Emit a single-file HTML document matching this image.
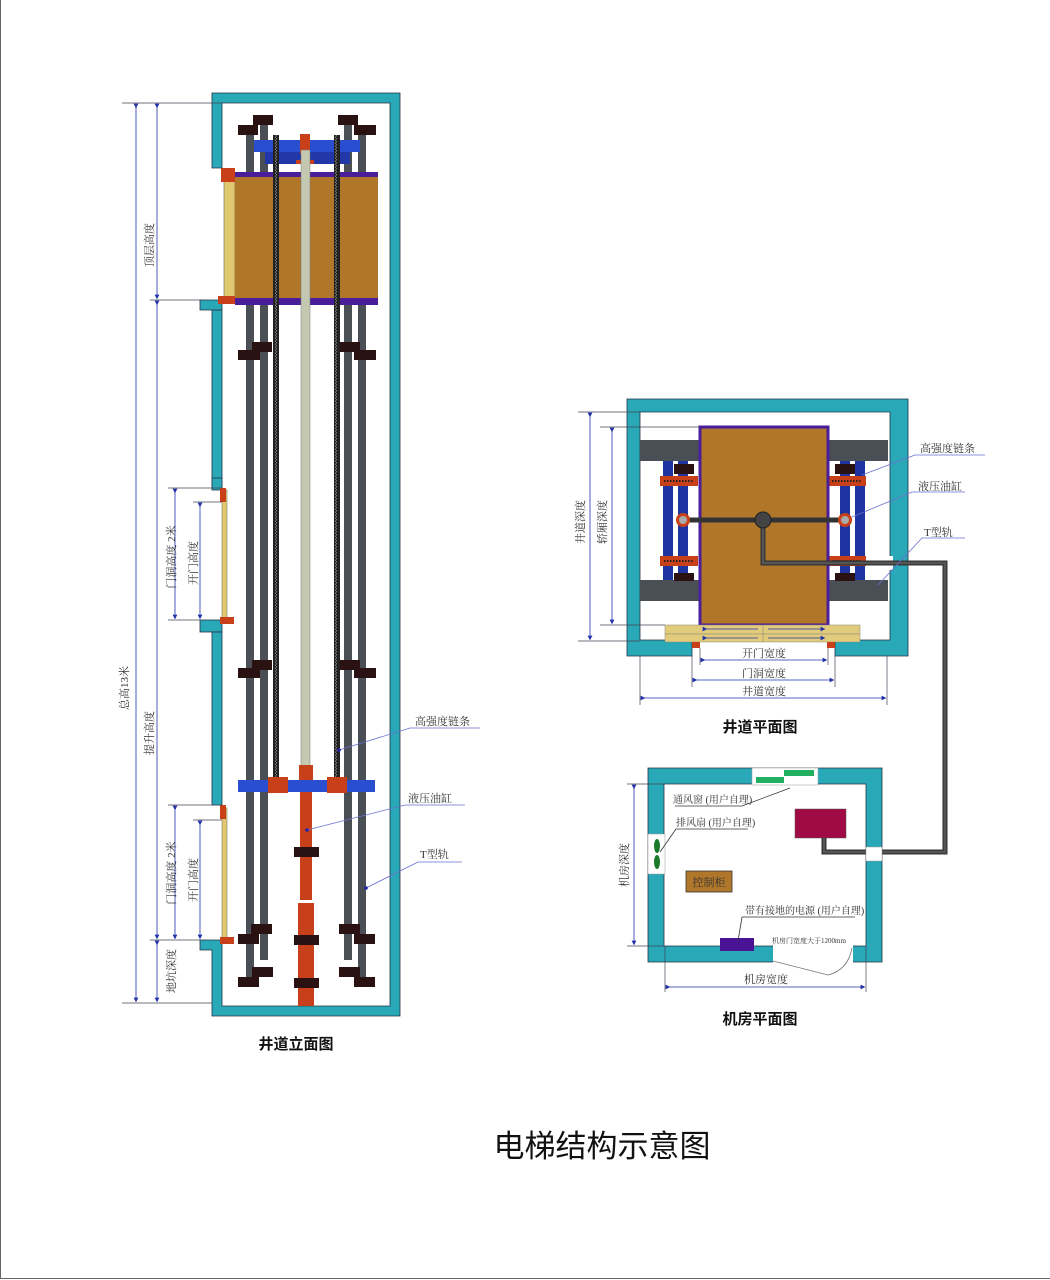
<!DOCTYPE html>
<html><head><meta charset="utf-8"><style>
html,body{margin:0;padding:0;background:#fff;}
svg{display:block;}
text{font-family:"Liberation Serif","Noto Serif CJK SC",serif;fill:#333;}
.t{font-family:"Liberation Sans","Noto Sans CJK SC",sans-serif;fill:#111;}
</style></head><body>
<svg width="1050" height="1280" viewBox="0 0 1050 1280" xmlns="http://www.w3.org/2000/svg">
<defs>
<marker id="a" markerWidth="6" markerHeight="6" refX="3" refY="3" orient="auto"><path d="M0,0L6,3L0,6z" fill="#2233aa"/></marker>
<pattern id="ch" width="6" height="3" patternUnits="userSpaceOnUse"><rect width="6" height="3" fill="#222"/><rect x="0" y="0" width="1" height="1.5" fill="#777"/><rect x="5" y="1.5" width="1" height="1.5" fill="#777"/></pattern>
</defs>
<line x1="0.5" y1="0" x2="0.5" y2="1278.5" stroke="#666"/>
<line x1="0" y1="1278.5" x2="1050" y2="1278.5" stroke="#666"/>

<!-- ===== Elevation ===== -->
<g stroke="#234" stroke-width="0.8">
<path d="M212,93 H400 V1016 H212 V950 H200 V940 H222 V1006 H390 V103 H222 V168 H212 Z" fill="#29a8b8"/>
<path d="M212,310 V488 H222 V310 Z" fill="#29a8b8"/>
<path d="M200,300 H222 V310 H200 Z" fill="#29a8b8"/>
<rect x="200" y="620" width="22" height="12" fill="#29a8b8"/>
<rect x="212" y="632" width="10" height="173" fill="#29a8b8"/>
<rect x="212" y="478" width="10" height="12" fill="#29a8b8"/>
</g>
<rect x="224" y="180" width="11" height="120" fill="#e0c870" stroke="#665" stroke-width="0.6"/>
<rect x="221" y="168" width="14" height="14" fill="#c8401a"/>
<rect x="218" y="296" width="18" height="8" fill="#c8401a"/>
<rect x="222" y="490" width="5" height="128" fill="#e0c870" stroke="#665" stroke-width="0.5"/>
<rect x="220" y="488" width="6" height="14" fill="#c8401a"/>
<rect x="220" y="617" width="14" height="7" fill="#c8401a"/>
<rect x="222" y="808" width="5" height="130" fill="#e0c870" stroke="#665" stroke-width="0.5"/>
<rect x="220" y="805" width="6" height="14" fill="#c8401a"/>
<rect x="220" y="937" width="14" height="7" fill="#c8401a"/>

<g fill="#4a4f55">
<rect x="246" y="125" width="8" height="860"/>
<rect x="260" y="125" width="8" height="835"/>
<rect x="344" y="125" width="8" height="835"/>
<rect x="358" y="125" width="8" height="860"/>
</g>
<rect x="254" y="140" width="106" height="12" fill="#2a4ed0"/>
<rect x="265" y="152" width="85" height="12" fill="#2238a8"/>
<rect x="300" y="134" width="10" height="20" fill="#c8401a"/>
<rect x="296" y="160" width="18" height="4" fill="#c8401a"/>
<g fill="#2a1212">
<rect x="238" y="125" width="20" height="10"/><rect x="253" y="115" width="20" height="10"/>
<rect x="338" y="115" width="20" height="10"/><rect x="354" y="125" width="22" height="10"/>
</g>
<rect x="235" y="172" width="143" height="131" fill="#b0772a"/>
<rect x="235" y="172" width="143" height="5" fill="#4a1e9a"/>
<rect x="235" y="298" width="143" height="7" fill="#4a1e9a"/>
<rect x="273" y="135" width="6" height="645" fill="url(#ch)"/>
<rect x="334" y="135" width="6" height="645" fill="url(#ch)"/>
<rect x="301" y="150" width="9" height="620" fill="#c4c8b0" stroke="#777" stroke-width="0.5"/>
<g fill="#2a1212">
<rect x="238" y="350" width="22" height="10"/><rect x="252" y="342" width="20" height="10"/>
<rect x="340" y="342" width="20" height="10"/><rect x="354" y="350" width="22" height="10"/>
<rect x="238" y="668" width="22" height="10"/><rect x="252" y="660" width="20" height="10"/>
<rect x="340" y="660" width="20" height="10"/><rect x="354" y="668" width="22" height="10"/>
</g>
<rect x="238" y="780" width="137" height="12" fill="#2a4ed0"/>
<rect x="268" y="777" width="20" height="16" fill="#c8401a"/>
<rect x="327" y="777" width="20" height="16" fill="#c8401a"/>
<rect x="299" y="765" width="14" height="15" fill="#c8401a"/>
<rect x="300" y="792" width="12" height="108" fill="#c8401a"/>
<rect x="298" y="903" width="16" height="103" fill="#c8401a"/>
<g fill="#2a1212">
<rect x="294" y="847" width="25" height="10"/>
<rect x="294" y="935" width="25" height="10"/><rect x="294" y="978" width="25" height="10"/>
<rect x="251" y="924" width="21" height="10"/><rect x="238" y="934" width="21" height="10"/>
<rect x="339" y="924" width="21" height="10"/><rect x="354" y="934" width="21" height="10"/>
<rect x="252" y="967" width="21" height="10"/><rect x="238" y="977" width="21" height="10"/>
<rect x="339" y="967" width="21" height="10"/><rect x="354" y="977" width="21" height="10"/>
</g>
<g stroke="#6a70d0" stroke-width="0.8" fill="none">
<path d="M339,750 L410,728 H480"/>
<path d="M307,830 L405,805 H465"/>
<path d="M366,888 L418,862 H462"/>
</g>
<g fill="#22a"><circle cx="339" cy="750" r="1.8"/><circle cx="307" cy="830" r="1.8"/><circle cx="366" cy="888" r="1.8"/></g>
<text x="415" y="725" font-size="11">高强度链条</text>
<text x="408" y="802" font-size="11">液压油缸</text>
<text x="420" y="858" font-size="11">T型轨</text>

<g stroke="#445" stroke-width="0.7">
<line x1="122" y1="103" x2="222" y2="103"/>
<line x1="122" y1="1003" x2="212" y2="1003"/>
<line x1="150" y1="300" x2="205" y2="300"/>
<line x1="150" y1="940" x2="205" y2="940"/>
<line x1="168" y1="488" x2="222" y2="488"/>
<line x1="168" y1="620" x2="205" y2="620"/>
<line x1="193" y1="502" x2="222" y2="502"/>
<line x1="168" y1="805" x2="222" y2="805"/>
<line x1="193" y1="820" x2="222" y2="820"/>
</g>
<g stroke="#2233aa" stroke-width="0.8" marker-start="url(#a)" marker-end="url(#a)">
<line x1="136" y1="106" x2="136" y2="1000"/>
<line x1="157" y1="106" x2="157" y2="297"/>
<line x1="157" y1="303" x2="157" y2="937"/>
<line x1="157" y1="943" x2="157" y2="1000"/>
<line x1="175" y1="491" x2="175" y2="617"/>
<line x1="200" y1="505" x2="200" y2="617"/>
<line x1="175" y1="808" x2="175" y2="937"/>
<line x1="200" y1="823" x2="200" y2="937"/>
</g>
<g font-size="11">
<text transform="translate(128,688) rotate(-90)" text-anchor="middle">总高13米</text>
<text transform="translate(153,245) rotate(-90)" text-anchor="middle">顶层高度</text>
<text transform="translate(153,733) rotate(-90)" text-anchor="middle">提升高度</text>
<text transform="translate(175,557) rotate(-90)" text-anchor="middle">门洞高度 2米</text>
<text transform="translate(197,563) rotate(-90)" text-anchor="middle">开门高度</text>
<text transform="translate(175,873) rotate(-90)" text-anchor="middle">门洞高度 2米</text>
<text transform="translate(197,880) rotate(-90)" text-anchor="middle">开门高度</text>
<text transform="translate(175,971) rotate(-90)" text-anchor="middle">地坑深度</text>
</g>
<text class="t" x="296" y="1049" font-size="15" font-weight="bold" text-anchor="middle">井道立面图</text>

<!-- ===== Plan view ===== -->
<path d="M627,399 H908 V656 H835 V640 H890 V412 H640 V640 H692 V656 H627 Z" fill="#29a8b8" stroke="#234" stroke-width="0.8"/>
<rect x="885" y="556" width="8" height="14" fill="#fff"/>
<g fill="#4a4f55">
<rect x="640" y="440" width="60" height="21"/><rect x="640" y="580" width="60" height="21"/>
<rect x="828" y="440" width="60" height="21"/><rect x="828" y="580" width="60" height="21"/>
</g>
<g fill="#1e34a0">
<rect x="663" y="461" width="10" height="119"/><rect x="678" y="461" width="10" height="119"/>
<rect x="840" y="461" width="10" height="119"/><rect x="855" y="461" width="10" height="119"/>
</g>
<g fill="#2a1212">
<rect x="674" y="464" width="20" height="10"/><rect x="674" y="573" width="20" height="8"/>
<rect x="835" y="464" width="20" height="10"/><rect x="835" y="573" width="20" height="8"/>
</g>
<g fill="#c8401a">
<rect x="660" y="476" width="38" height="10"/><rect x="660" y="556" width="38" height="10"/>
<rect x="828" y="476" width="38" height="10"/><rect x="828" y="556" width="38" height="10"/>
</g>
<g stroke="#222" stroke-width="2" stroke-dasharray="1.5,1.5"><line x1="664" y1="481" x2="694" y2="481"/><line x1="664" y1="561" x2="694" y2="561"/><line x1="832" y1="481" x2="862" y2="481"/><line x1="832" y1="561" x2="862" y2="561"/></g>
<rect x="700" y="427" width="128" height="198" fill="#b0772a" stroke="#4a1e9a" stroke-width="3"/>
<rect x="665" y="625" width="195" height="9" fill="#e2cc7c" stroke="#887" stroke-width="0.5"/>
<rect x="665" y="634" width="195" height="8" fill="#e2cc7c" stroke="#887" stroke-width="0.5"/>
<line x1="763" y1="625" x2="763" y2="642" stroke="#887" stroke-width="0.6"/>
<rect x="692" y="642" width="8" height="6" fill="#c8401a"/><rect x="827" y="642" width="8" height="6" fill="#c8401a"/>
<line x1="683" y1="520" x2="843" y2="520" stroke="#333" stroke-width="5"/>
<path d="M763,520 V563 H945 V852 H824 V835" stroke="#333" stroke-width="5" fill="none"/>
<path d="M763,520 V563 H945 V852 H824 V835" stroke="#555" stroke-width="2.5" fill="none"/>
<circle cx="763" cy="520" r="8" fill="#444" stroke="#222"/>
<circle cx="683" cy="520" r="7" fill="#c8401a"/><circle cx="683" cy="520" r="4" fill="#aaa"/>
<circle cx="845" cy="520" r="7" fill="#c8401a"/><circle cx="845" cy="520" r="4" fill="#aaa"/>
<g stroke="#6a70d0" stroke-width="0.8" fill="none">
<path d="M862,475 L915,455 H985"/>
<path d="M852,517 L912,492 H965"/>
<path d="M878,585 L922,538 H965"/>
</g>
<g font-size="11">
<text x="920" y="452">高强度链条</text>
<text x="918" y="490">液压油缸</text>
<text x="924" y="536">T型轨</text>
</g>
<g stroke="#445" stroke-width="0.7">
<line x1="578" y1="412" x2="640" y2="412"/><line x1="578" y1="641" x2="640" y2="641"/>
<line x1="600" y1="427" x2="700" y2="427"/><line x1="600" y1="625" x2="665" y2="625"/>
<line x1="640" y1="656" x2="640" y2="705"/><line x1="887" y1="656" x2="887" y2="705"/>
<line x1="692" y1="656" x2="692" y2="687"/><line x1="835" y1="656" x2="835" y2="687"/>
<line x1="700" y1="648" x2="700" y2="665"/><line x1="828" y1="648" x2="828" y2="665"/>
</g>
<g stroke="#2233aa" stroke-width="0.8" marker-start="url(#a)" marker-end="url(#a)">
<line x1="590" y1="415" x2="590" y2="638"/>
<line x1="612" y1="430" x2="612" y2="622"/>
<line x1="703" y1="660" x2="825" y2="660"/>
<line x1="695" y1="680" x2="832" y2="680"/>
<line x1="643" y1="698" x2="884" y2="698"/>
<line x1="705" y1="629" x2="758" y2="629" marker-start="url(#a)" marker-end="none"/>
<line x1="768" y1="629" x2="823" y2="629" marker-start="none"/>
<line x1="705" y1="638" x2="758" y2="638" marker-start="url(#a)" marker-end="none"/>
<line x1="768" y1="638" x2="823" y2="638" marker-start="none"/>
</g>
<g font-size="11">
<text transform="translate(584,522) rotate(-90)" text-anchor="middle">井道深度</text>
<text transform="translate(606,522) rotate(-90)" text-anchor="middle">轿厢深度</text>
<text x="764" y="657" text-anchor="middle">开门宽度</text>
<text x="764" y="677" text-anchor="middle">门洞宽度</text>
<text x="764" y="695" text-anchor="middle">井道宽度</text>
</g>
<text class="t" x="760" y="732" font-size="15" font-weight="bold" text-anchor="middle">井道平面图</text>

<!-- ===== Machine room ===== -->
<path d="M648,768 H882 V962 H648 Z M664,784 V946 H866 V784 Z" fill="#29a8b8" fill-rule="evenodd" stroke="#234" stroke-width="0.8"/>
<rect x="752" y="768" width="66" height="17" fill="#fff" stroke="#999" stroke-width="0.5"/>
<rect x="756" y="777" width="28" height="6" fill="#22b060"/><rect x="784" y="770" width="30" height="6" fill="#22b060"/>
<rect x="648" y="834" width="17" height="40" fill="#fff" stroke="#999" stroke-width="0.5"/>
<ellipse cx="657" cy="846" rx="3" ry="7" fill="#1a7a2a"/><ellipse cx="657" cy="862" rx="3" ry="7" fill="#1a7a2a"/>
<rect x="866" y="847" width="16" height="14" fill="#fff" stroke="#999" stroke-width="0.5"/>
<rect x="773" y="945" width="80" height="18" fill="#fff"/>
<path d="M773,961 L828,975 Q848,970 852,948" stroke="#777" stroke-width="0.8" fill="none"/>
<rect x="795" y="809" width="51" height="29" fill="#a00a45" stroke="#555" stroke-width="0.5"/>
<rect x="686" y="871" width="46" height="21" fill="#b0772a" stroke="#333" stroke-width="0.8"/>
<text x="709" y="886" font-size="11" text-anchor="middle" fill="#222">控制柜</text>
<rect x="720" y="938" width="34" height="13" fill="#4a1295"/>
<g stroke="#333" stroke-width="0.8" fill="none">
<path d="M675,806 H742 L790,788"/>
<path d="M676,829 H748"/>
<path d="M676,829 L660,852"/>
<path d="M742,917 L738,941"/>
<path d="M742,917 H855"/>
</g>
<g font-size="10" fill="#333">
<text x="673" y="803">通风窗 (用户自理)</text>
<text x="676" y="826">排风扇 (用户自理)</text>
<text x="745" y="914">带有接地的电源 (用户自理)</text>
<text x="772" y="943" font-size="7">机房门宽度大于1200mm</text>
</g>
<g stroke="#445" stroke-width="0.7">
<line x1="627" y1="784" x2="664" y2="784"/><line x1="627" y1="946" x2="664" y2="946"/>
<line x1="665" y1="946" x2="665" y2="992"/><line x1="866" y1="946" x2="866" y2="992"/>
</g>
<g stroke="#2233aa" stroke-width="0.8" marker-start="url(#a)" marker-end="url(#a)">
<line x1="634" y1="787" x2="634" y2="943"/>
<line x1="668" y1="987" x2="863" y2="987"/>
</g>
<text transform="translate(628,865) rotate(-90)" font-size="11" text-anchor="middle">机房深度</text>
<text x="766" y="983" font-size="11" text-anchor="middle">机房宽度</text>
<text class="t" x="760" y="1024" font-size="15" font-weight="bold" text-anchor="middle">机房平面图</text>

<text class="t" x="602" y="1157" font-size="31" text-anchor="middle">电梯结构示意图</text>
</svg>
</body></html>
